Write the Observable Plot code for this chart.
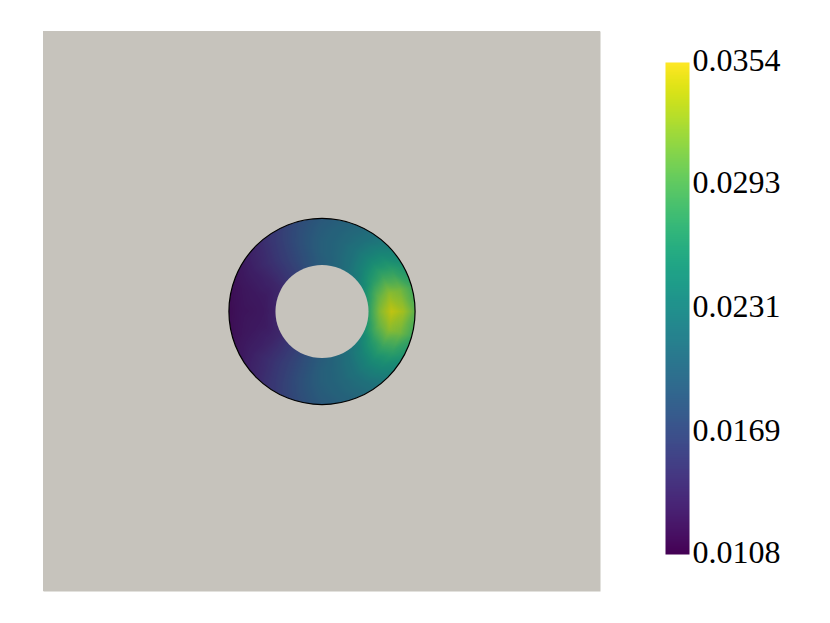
<!DOCTYPE html>
<html>
<head>
<meta charset="utf-8">
<script src="https://cdn.jsdelivr.net/npm/d3@7"></script>
<script src="https://cdn.jsdelivr.net/npm/@observablehq/plot@0.6"></script>
<style>
  html, body { margin: 0; padding: 0; background: #ffffff; }
  #chart { position: relative; width: 830px; height: 623px; overflow: hidden; }
  #chart > svg, #chart > figure { position: absolute; top: 0; margin: 0; }
</style>
</head>
<body>
<div id="chart"></div>
<script>
// ---- data ----
const vmin = 0.0108;
const vmax = 0.0354;
const tickValues = [0.0108, 0.0169, 0.0231, 0.0293, 0.0354];
const tickLabels = ["0.0108", "0.0169", "0.0231", "0.0293", "0.0354"];

const innerRadius = 0.5;
const outerRadius = 1.0;
const plateHalf = 3;

// sample angles (degrees, counter-clockwise from +x)
const anglesDeg = [0, 15, 30, 45, 60, 75, 90, 105, 120, 135, 150, 165,
                   180, 195, 210, 225, 240, 255, 270, 285, 300, 315, 330, 345];
const sampleRadii = [0.5, 0.625, 0.75, 0.875, 1.0];
// field values at each sample radius, for each angle above
const valuesR050  = [0.0270, 0.0261, 0.0243, 0.0226, 0.0214, 0.0204, 0.0194, 0.0182, 0.0167, 0.0155, 0.0142, 0.0138,
                     0.0135, 0.0138, 0.0142, 0.0155, 0.0167, 0.0182, 0.0194, 0.0204, 0.0214, 0.0226, 0.0243, 0.0261];
const valuesR0625 = [0.0317, 0.0300, 0.0268, 0.0241, 0.0219, 0.0206, 0.0197, 0.0182, 0.0167, 0.0152, 0.0138, 0.0130,
                     0.0128, 0.0130, 0.0138, 0.0152, 0.0167, 0.0182, 0.0197, 0.0206, 0.0219, 0.0241, 0.0268, 0.0300];
const valuesR075  = [0.0342, 0.0320, 0.0280, 0.0246, 0.0221, 0.0206, 0.0197, 0.0182, 0.0165, 0.0150, 0.0135, 0.0128,
                     0.0125, 0.0128, 0.0135, 0.0150, 0.0165, 0.0182, 0.0197, 0.0206, 0.0221, 0.0246, 0.0280, 0.0320];
const valuesR0875 = [0.0329, 0.0310, 0.0273, 0.0241, 0.0216, 0.0204, 0.0194, 0.0179, 0.0162, 0.0145, 0.0133, 0.0125,
                     0.0123, 0.0125, 0.0133, 0.0145, 0.0162, 0.0179, 0.0194, 0.0204, 0.0216, 0.0241, 0.0273, 0.0310];
const valuesR100  = [0.0300, 0.0285, 0.0256, 0.0231, 0.0211, 0.0199, 0.0189, 0.0174, 0.0157, 0.0140, 0.0128, 0.0120,
                     0.0118, 0.0120, 0.0128, 0.0140, 0.0157, 0.0174, 0.0189, 0.0199, 0.0211, 0.0231, 0.0256, 0.0285];

// ---- build sample table ----
const valueRows = [valuesR050, valuesR0625, valuesR075, valuesR0875, valuesR100];
const samples = [];
sampleRadii.forEach((r, j) => {
  anglesDeg.forEach((a, i) => {
    const t = a * Math.PI / 180;
    samples.push({x: r * Math.cos(t), y: r * Math.sin(t), v: valueRows[j][i]});
  });
});
const center = [{x: 0, y: 0}];

const plateGrey = "#c6c3bc";
const W = 830, H = 623;
const mL = 43, mR = 230, mT = 31, mB = 32;
const pxPerUnitX = (W - mL - mR) / (2 * plateHalf);
const pxPerUnitY = (H - mT - mB) / (2 * plateHalf);
const pxPerUnit = (pxPerUnitX + pxPerUnitY) / 2;
const colorOpts = {type: "linear", scheme: "viridis", domain: [vmin, vmax]};

const main = Plot.plot({
  width: W, height: H,
  marginLeft: mL, marginRight: mR, marginTop: mT, marginBottom: mB,
  x: {domain: [-plateHalf, plateHalf], axis: null},
  y: {domain: [-plateHalf, plateHalf], axis: null},
  color: colorOpts,
  style: {background: "transparent"},
  marks: [
    Plot.frame({fill: plateGrey, stroke: null}),
    // dark underlay (shading of the rendered surface)
    Plot.dot(center, {x: "x", y: "y", r: outerRadius * pxPerUnit, fill: "#000", stroke: null}),
    Plot.raster(samples, {x: "x", y: "y", fill: "v", interpolate: "barycentric",
      x1: -1.1, x2: 1.1, y1: -1.1, y2: 1.1, pixelSize: 1, opacity: 0.86}),
    // hole
    Plot.dot(center, {x: "x", y: "y", r: innerRadius * pxPerUnit, fill: plateGrey, stroke: null}),
    // outside of the ring
    Plot.dot(center, {x: "x", y: "y", r: outerRadius * pxPerUnit + 200, fill: "none",
      stroke: plateGrey, strokeWidth: 400, clip: true}),
    // outline
    Plot.dot(center, {x: "x", y: "y", r: outerRadius * pxPerUnit, fill: "none",
      stroke: "#000", strokeWidth: 1.2})
  ]
});
main.style.left = "0px";
document.getElementById("chart").appendChild(main);

// ---- colour bar ----
const barLeft = 665, barW = 24, barTop = 62, barBottom = 554;
const bar = Plot.plot({
  width: W - barLeft, height: H,
  marginLeft: 0, marginRight: W - barLeft - barW, marginTop: barTop, marginBottom: H - barBottom,
  x: {domain: [0, 1], axis: null},
  y: {domain: [vmin, vmax], axis: null},
  color: colorOpts,
  style: {background: "transparent"},
  marks: [
    Plot.raster({fill: (x, y) => y, x1: 0, x2: 1, y1: vmin, y2: vmax, pixelSize: 1}),
    Plot.axisY(tickValues, {anchor: "right", tickSize: 0, tickPadding: 3,
      tickFormat: (d, i) => tickLabels[i],
      fontSize: 32, fontFamily: "Liberation Serif", fill: "#000", dy: -2})
  ]
});
bar.style.left = barLeft + "px";
document.getElementById("chart").appendChild(bar);
</script>
</body>
</html>
